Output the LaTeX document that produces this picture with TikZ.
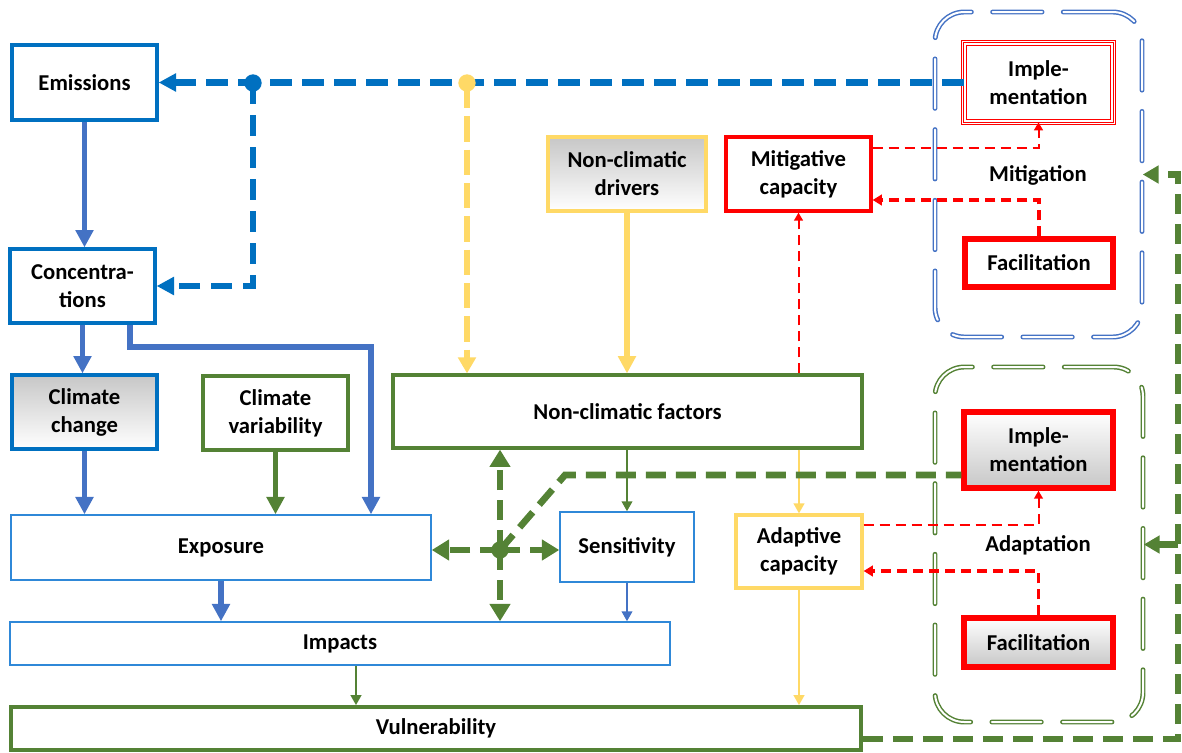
\documentclass[tikz,border=0pt]{standalone}
\usepackage{fontspec}
\setmainfont{Carlito}
\usetikzlibrary{arrows.meta,calc}

\definecolor{cdblue}{HTML}{0070C0}
\definecolor{cblue}{HTML}{4472C4}
\definecolor{clblue}{HTML}{2F88D8}
\definecolor{cgreen}{HTML}{548235}
\definecolor{cyellow}{HTML}{FFD966}
\definecolor{cred}{HTML}{FF0000}

% node from its corner coordinates (pixel grid)
\newcommand\placebox[7]{%
  \node[#2,minimum width={(#5-#3)*0.75pt},minimum height={(#6-#4)*0.75pt}]
    (#1) at ({(#3+#5)/2},{(#4+#6)/2}) {#7};}

\tikzset{
  lbl/.style={font=\bfseries\fontsize{17}{21}\selectfont, align=center, inner sep=0pt, text=black},
  bx/.style={lbl, draw, rectangle, fill=white},
  bluebox/.style={bx, draw=cdblue, line width=2.5pt},
  thinblue/.style={bx, draw=clblue, line width=1.1pt},
  greenbox/.style={bx, draw=cgreen, line width=2.4pt},
  yellowbox/.style={bx, draw=cyellow, line width=2.4pt},
  redbox/.style={bx, draw=cred, line width=2.4pt},
  redthick/.style={bx, draw=cred, line width=4pt},
  greytop/.style={top color=black!22, middle color=white, bottom color=white},
  greybot/.style={top color=white, middle color=white, bottom color=black!22},
  grp/.style={draw=#1, rounded corners=22pt, double=white, double distance=1.5pt,
    line width=1.1pt, dash pattern=on 37pt off 16pt, line cap=round, inner sep=0pt},
  hubdot/.style={circle, fill=#1, inner sep=0pt, minimum size=13pt},
  bigtip/.style={-{Triangle[width=13pt,length=13pt]}},
  dashtip/.style={-{Triangle[width=15pt,length=13pt]}},
  smalltip/.style={-{Triangle[width=8pt,length=7.5pt]}},
  redtip/.style={-{Triangle[width=6.5pt,length=6pt]}},
  thickline/.style={line width=4.2pt, bigtip},
  thinline/.style={line width=1.5pt, smalltip},
  bdash/.style={cdblue, line width=4.6pt, dash pattern=on 16pt off 8pt},
  ydash/.style={cyellow, line width=5pt, dash pattern=on 19pt off 6pt},
  gdash/.style={cgreen, line width=5pt, dash pattern=on 15pt off 7.5pt},
  rdash/.style={cred, line width=1.5pt, dash pattern=on 7.5pt off 4.5pt, redtip},
  rdashb/.style={cred, line width=2.3pt, dash pattern=on 7.5pt off 4.5pt,
    -{Triangle[width=8pt,length=7pt]}},
}

\begin{document}
\begin{tikzpicture}[x=0.75pt,y=-0.75pt]
\useasboundingbox (0,0) rectangle (1182,753);

% grouping frames
\placebox{mitG}{grp=cblue}{935}{12}{1142}{337}{}
\placebox{adaG}{grp=cgreen}{935}{367}{1143}{722}{}
\node[lbl] (mitL) at (1038,175) {Mitigation};
\node[lbl] (adaL) at (1038,545) {Adaptation};

% climate chain
\placebox{emis}{bluebox}{12}{45}{157}{120}{Emissions}
\placebox{conc}{bluebox}{10}{249}{155}{323}{Concentra-\\tions}
\placebox{cc}{bluebox, greytop}{12}{375}{157}{449}{Climate\\change}
\placebox{cv}{greenbox}{203}{376}{348}{450}{Climate\\variability}

% non-climatic side
\placebox{ncd}{yellowbox, greytop}{548}{137}{706}{211}{Non-climatic\\drivers}
\placebox{ncf}{greenbox}{393}{375}{862}{448}{Non-climatic factors}
\placebox{mc}{redbox}{726}{137}{871}{211}{Mitigative\\capacity}
\placebox{ac}{yellowbox}{736}{515}{862}{588}{Adaptive\\capacity}

% outcome chain
\placebox{expo}{thinblue}{11}{515}{431}{580}{Exposure}
\placebox{sens}{thinblue}{560}{512}{694}{582}{Sensitivity}
\placebox{imp}{thinblue}{10}{622}{670}{665}{Impacts}
\placebox{vul}{greenbox, line width=2.8pt}{11}{707}{861}{750}{Vulnerability}

% response boxes
\placebox{impM}{lbl, fill=white}{964}{43}{1113}{122}{Imple-\\mentation}
\draw[cred, line width=4.6pt] (impM.south west) rectangle (impM.north east);
\draw[white, line width=2.8pt] (impM.south west) rectangle (impM.north east);
\draw[cred, line width=0.8pt] (impM.south west) rectangle (impM.north east);
\placebox{facM}{redthick}{965}{239}{1113}{287}{Facilitation}
\placebox{impA}{redthick, greybot}{964}{412}{1113}{488}{Imple-\\mentation}
\placebox{facA}{redthick, greybot}{964}{618}{1113}{667}{Facilitation}

% helper points
\coordinate (bd) at (253,83);
\coordinate (yd) at (467,83);
\coordinate (cx) at (130,347);
\coordinate (cy) at (371,347);
\coordinate (ix) at (356,0);
\coordinate (hubpt) at (500,550);
\coordinate (gk) at (565,475);
\coordinate (gv) at (1178,739);
\coordinate (r1) at (0,148);
\coordinate (r2) at (0,200);
\coordinate (r3) at (0,525);
\coordinate (r4) at (0,571);

% implementation feedback on emissions and concentrations
\draw[bdash, -{Triangle[width=13pt,length=13pt]}] (impM.west) -- (impM.west -| emis.east);
\draw[bdash, -{Triangle[width=13pt,length=13pt]}] (bd) |- (conc.east);
\node[hubdot=cdblue] (bdot) at (bd) {};
\draw[ydash, -{Triangle[width=13pt,length=12pt]}] (yd) -- (yd |- ncf.north);
\node[hubdot=cyellow] (ydot) at (yd) {};

% climate chain arrows
\draw[cblue, thickline] (emis.south) -- (emis.south |- conc.north);
\draw[cblue, thickline] (conc.south) -- (conc.south |- cc.north);
\draw[cblue, thickline] (cx |- conc.south) |- (cy) -- (cy |- expo.north);
\draw[cblue, thickline] (cc.south) -- (cc.south |- expo.north);
\draw[cgreen, thickline] (cv.south) -- (cv.south |- expo.north);
\draw[cyellow, line width=4pt, -{Triangle[width=13pt,length=13pt]}] (ncd.south) -- (ncd.south |- ncf.north);

\draw[cgreen, thinline] (sens.north |- ncf.south) -- (sens.north);
\draw[cyellow, thinline] (ac.north |- ncf.south) -- (ac.north);
\draw[rdash] (mc.south |- ncf.north) -- (mc.south);

\draw[cblue, thickline] (expo.south) -- (expo.south |- imp.north);
\draw[cblue, thinline] (sens.south) -- (sens.south |- imp.north);
\draw[cgreen, thinline] (ix |- imp.south) -- (ix |- vul.north);
\draw[cyellow, thinline] (ac.south) -- (ac.south |- vul.north);

% green hub between exposure, sensitivity, factors and impacts
\draw[gdash] (hubpt) -- (gk) -- (gk -| impA.west);
\draw[gdash, dashtip] (hubpt) -- (hubpt |- ncf.south);
\draw[gdash, dashtip] (hubpt) -- (hubpt |- imp.north);
\draw[gdash, dashtip] (hubpt) -- (hubpt -| expo.east);
\draw[gdash, dashtip] (hubpt) -- (hubpt -| sens.west);
\node[hubdot=cgreen] (gdot) at (hubpt) {};

% vulnerability feedback to the response frames
\draw[gdash, -{Triangle[width=13pt,length=12pt]}] (gv -| vul.east) -- (gv) |- (mitG.east);
\draw[gdash, -{Triangle[width=13pt,length=12pt]}] (gv |- adaG.east) -- (adaG.east);

% capacities and responses
\draw[rdash] (r1 -| mc.east) -| (impM.south);
\draw[rdashb] (facM.north) |- (r2 -| mc.east);
\draw[rdash] (r3 -| ac.east) -| (impA.south);
\draw[rdashb] (facA.north) |- (r4 -| ac.east);
\end{tikzpicture}
\end{document}
